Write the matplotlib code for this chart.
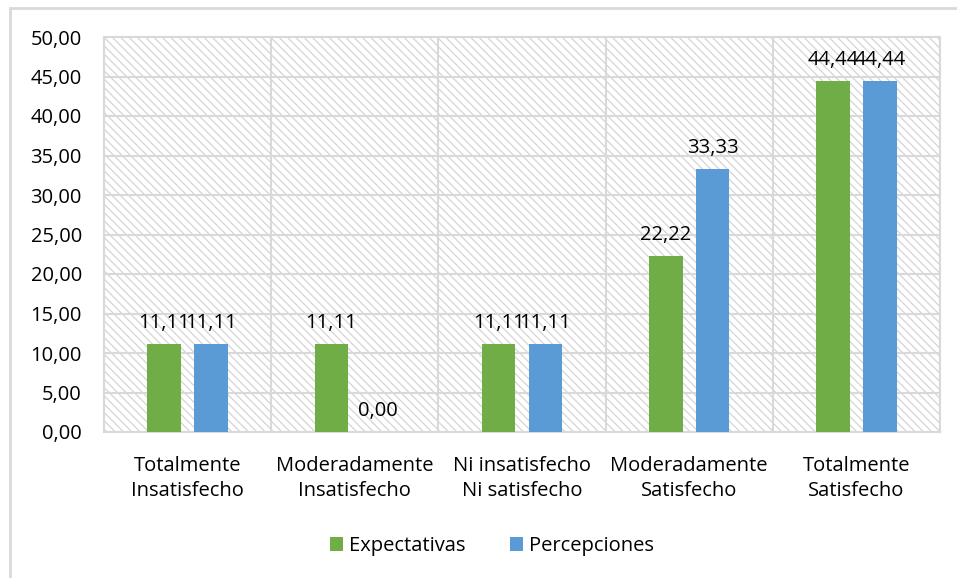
import numpy as np
import matplotlib.pyplot as plt
from matplotlib.patches import Rectangle

categorias = ["Totalmente\nInsatisfecho", "Moderadamente\nInsatisfecho",
              "Ni insatisfecho\nNi satisfecho", "Moderadamente\nSatisfecho",
              "Totalmente\nSatisfecho"]
expectativas = [11.11, 11.11, 11.11, 22.22, 44.44]
percepciones = [11.11, 0.00, 11.11, 33.33, 44.44]
yticks = [0, 5, 10, 15, 20, 25, 30, 35, 40, 45, 50]

VERDE = "#70AD47"
AZUL = "#5B9BD5"
GRIS = "#D9D9D9"
FS = 14.5


def coma(v):
    return f"{v:.2f}".replace(".", ",")


def main():
    plt.rcParams["font.family"] = ["Open Sans", "DejaVu Sans"]
    plt.rcParams["hatch.linewidth"] = 0.9

    fig = plt.figure(figsize=(9.57, 5.78), dpi=100)
    ax = fig.add_axes([104 / 957, 1 - 432 / 578, 836 / 957, 395 / 578])

    # marco exterior del grafico
    fig.patches.append(Rectangle((10 / 957, -0.1), 1.2, 1.1 - 8 / 578,
                                 transform=fig.transFigure, fill=False,
                                 edgecolor=GRIS, linewidth=2, zorder=0))

    # fondo rayado del area de trazado
    ax.add_patch(Rectangle((0, 0), 1, 1, transform=ax.transAxes,
                           facecolor="white", edgecolor="#D4D4D4",
                           hatch="\\\\\\\\", linewidth=0, zorder=0))

    x = np.arange(len(categorias))
    w = 0.2
    off = 0.14
    b1 = ax.bar(x - off, expectativas, w, color=VERDE, label="Expectativas", zorder=3)
    b2 = ax.bar(x + off, percepciones, w, color=AZUL, label="Percepciones", zorder=3)

    for bars, vals in ((b1, expectativas), (b2, percepciones)):
        for r, v in zip(bars, vals):
            ax.annotate(coma(v), (r.get_x() + r.get_width() / 2, v),
                        xytext=(0, 8), textcoords="offset points",
                        ha="center", va="bottom", fontsize=FS, zorder=4)

    ax.set_xlim(-0.5, len(categorias) - 0.5)
    ax.set_ylim(0, 50)
    ax.set_yticks(yticks)
    ax.set_yticklabels([coma(t) for t in yticks], fontsize=FS)
    ax.set_xticks(x)
    ax.set_xticklabels(categorias, fontsize=FS, linespacing=1.35)
    ax.tick_params(axis="y", length=0, pad=16)
    ax.tick_params(axis="x", length=0, pad=17)

    ax.set_xticks(np.arange(len(categorias) + 1) - 0.5, minor=True)
    ax.tick_params(axis="x", which="minor", length=0)
    ax.grid(axis="y", color=GRIS, linewidth=1.5, zorder=1)
    ax.grid(axis="x", which="minor", color=GRIS, linewidth=1.5, zorder=1)
    ax.set_axisbelow(True)
    for s in ax.spines.values():
        s.set_color(GRIS)
        s.set_linewidth(1.5)

    fig.legend(handles=[b1, b2], loc="center", bbox_to_anchor=(492 / 957, 1 - 546 / 578),
               ncol=2, frameon=False, fontsize=FS, handlelength=0.65,
               handleheight=0.65, handletextpad=0.3, columnspacing=2.2)

    fig.savefig("out.png", dpi=100)


if __name__ == "__main__":
    main()
